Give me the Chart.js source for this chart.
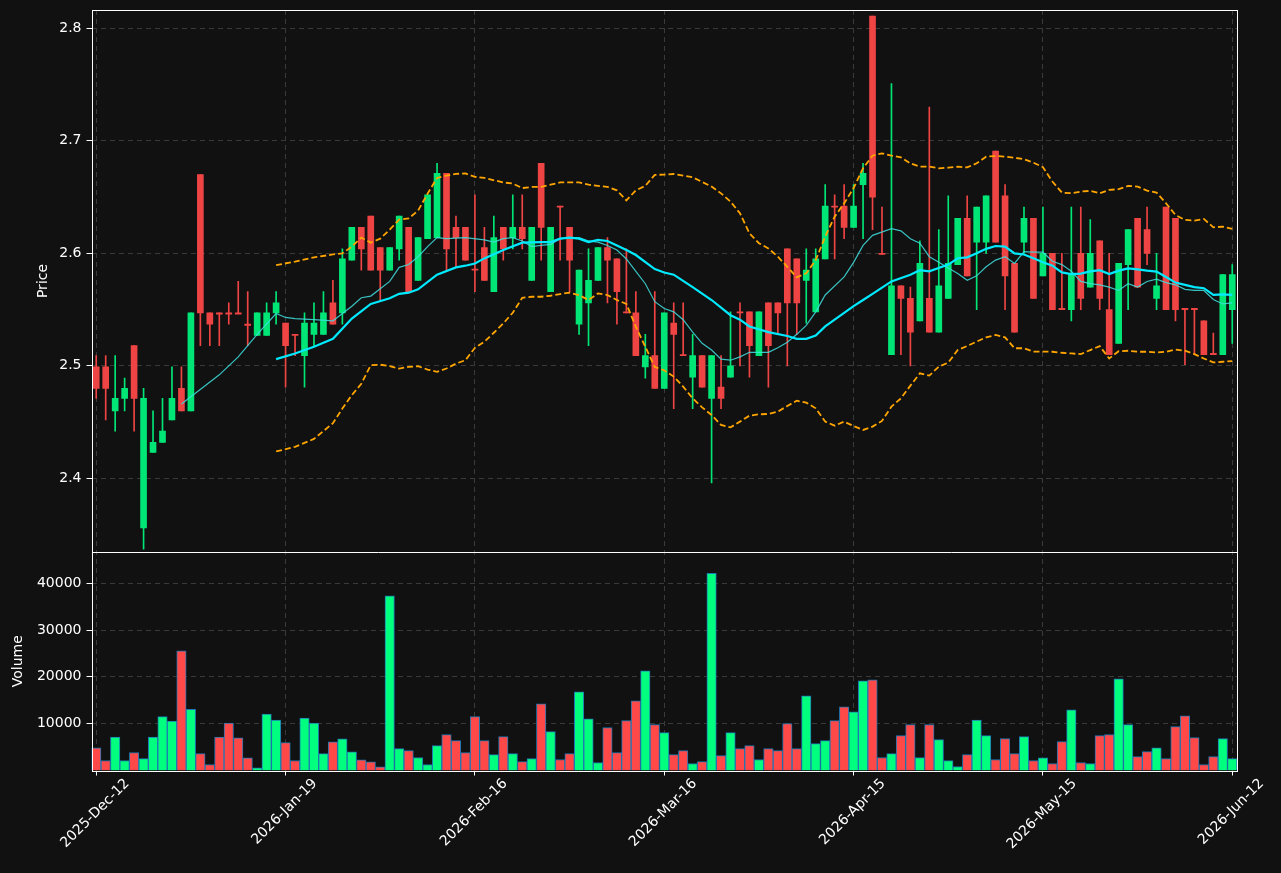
<!DOCTYPE html>
<html>
<head>
<meta charset="utf-8">
<script src="https://cdn.jsdelivr.net/npm/chart.js@4.4.0/dist/chart.umd.min.js"></script>
<style>
    html, body { margin: 0; padding: 0; background: #111111; }
    #wrap { position: relative; width: 1281px; height: 873px; }
</style>
</head>
<body>
<div id="wrap"><canvas id="chart" width="1281" height="873"></canvas></div>
<script>
// Daily candles
const opens = [
    2.499, 2.499, 2.460, 2.471, 2.518, 2.356, 2.423, 2.432, 2.452, 2.480,
    2.460, 2.670, 2.547, 2.547, 2.547, 2.547, 2.537, 2.527, 2.527, 2.547,
    2.538, 2.528, 2.509, 2.528, 2.528, 2.556, 2.547, 2.594, 2.623, 2.633,
    2.605, 2.585, 2.604, 2.623, 2.576, 2.613, 2.614, 2.671, 2.623, 2.623,
    2.586, 2.605, 2.566, 2.623, 2.614, 2.623, 2.576, 2.680, 2.566, 2.642,
    2.623, 2.537, 2.556, 2.576, 2.605, 2.595, 2.548, 2.547, 2.499, 2.509,
    2.480, 2.538, 2.510, 2.490, 2.509, 2.471, 2.481, 2.490, 2.548, 2.548,
    2.509, 2.556, 2.556, 2.604, 2.595, 2.576, 2.548, 2.595, 2.642, 2.642,
    2.623, 2.661, 2.811, 2.600, 2.510, 2.571, 2.560, 2.540, 2.560, 2.530,
    2.560, 2.590, 2.631, 2.610, 2.610, 2.691, 2.651, 2.591, 2.610, 2.631,
    2.580, 2.600, 2.551, 2.550, 2.600, 2.570, 2.611, 2.550, 2.520, 2.590,
    2.631, 2.621, 2.560, 2.641, 2.631, 2.551, 2.551, 2.540, 2.511, 2.510, 2.550
];
const highs = [
    2.509, 2.509, 2.509, 2.489, 2.518, 2.480, 2.460, 2.471, 2.499, 2.499,
    2.547, 2.670, 2.547, 2.547, 2.556, 2.575, 2.566, 2.547, 2.556, 2.566,
    2.538, 2.528, 2.547, 2.556, 2.566, 2.576, 2.604, 2.623, 2.623, 2.633,
    2.605, 2.605, 2.633, 2.623, 2.614, 2.652, 2.680, 2.671, 2.633, 2.623,
    2.652, 2.623, 2.633, 2.623, 2.652, 2.652, 2.623, 2.680, 2.623, 2.642,
    2.623, 2.585, 2.604, 2.605, 2.614, 2.595, 2.604, 2.566, 2.528, 2.566,
    2.547, 2.556, 2.556, 2.528, 2.509, 2.509, 2.509, 2.548, 2.556, 2.548,
    2.548, 2.556, 2.556, 2.604, 2.595, 2.604, 2.604, 2.661, 2.652, 2.661,
    2.661, 2.680, 2.811, 2.641, 2.751, 2.571, 2.570, 2.611, 2.730, 2.621,
    2.651, 2.631, 2.651, 2.641, 2.651, 2.691, 2.661, 2.591, 2.641, 2.631,
    2.641, 2.600, 2.600, 2.641, 2.641, 2.630, 2.611, 2.600, 2.591, 2.621,
    2.631, 2.641, 2.600, 2.641, 2.631, 2.551, 2.551, 2.540, 2.529, 2.581, 2.590
];
const lows = [
    2.471, 2.452, 2.442, 2.460, 2.442, 2.337, 2.423, 2.432, 2.452, 2.460,
    2.460, 2.518, 2.518, 2.518, 2.537, 2.547, 2.518, 2.527, 2.527, 2.537,
    2.481, 2.509, 2.481, 2.518, 2.528, 2.537, 2.537, 2.594, 2.585, 2.585,
    2.557, 2.585, 2.594, 2.566, 2.576, 2.613, 2.614, 2.585, 2.588, 2.594,
    2.566, 2.576, 2.566, 2.594, 2.604, 2.604, 2.576, 2.594, 2.566, 2.594,
    2.566, 2.528, 2.518, 2.576, 2.556, 2.537, 2.547, 2.509, 2.489, 2.480,
    2.480, 2.462, 2.509, 2.462, 2.481, 2.396, 2.462, 2.490, 2.500, 2.490,
    2.509, 2.481, 2.528, 2.500, 2.528, 2.538, 2.548, 2.595, 2.595, 2.613,
    2.623, 2.613, 2.621, 2.599, 2.510, 2.510, 2.500, 2.540, 2.530, 2.530,
    2.560, 2.590, 2.580, 2.550, 2.600, 2.610, 2.550, 2.530, 2.600, 2.560,
    2.580, 2.550, 2.550, 2.540, 2.550, 2.570, 2.550, 2.510, 2.520, 2.550,
    2.570, 2.590, 2.550, 2.550, 2.540, 2.501, 2.510, 2.510, 2.510, 2.510, 2.520
];
const closes = [
    2.480, 2.480, 2.471, 2.480, 2.471, 2.471, 2.432, 2.442, 2.471, 2.460,
    2.547, 2.547, 2.537, 2.546, 2.546, 2.546, 2.536, 2.547, 2.547, 2.556,
    2.518, 2.527, 2.538, 2.538, 2.547, 2.537, 2.595, 2.623, 2.604, 2.585,
    2.585, 2.605, 2.633, 2.566, 2.614, 2.652, 2.671, 2.604, 2.614, 2.594,
    2.585, 2.576, 2.614, 2.604, 2.623, 2.613, 2.623, 2.623, 2.623, 2.641,
    2.594, 2.585, 2.576, 2.605, 2.594, 2.566, 2.547, 2.509, 2.509, 2.480,
    2.547, 2.528, 2.509, 2.509, 2.481, 2.509, 2.471, 2.500, 2.547, 2.518,
    2.548, 2.518, 2.547, 2.556, 2.556, 2.585, 2.595, 2.642, 2.641, 2.623,
    2.642, 2.671, 2.650, 2.599, 2.571, 2.560, 2.530, 2.591, 2.530, 2.571,
    2.591, 2.631, 2.580, 2.641, 2.651, 2.610, 2.580, 2.530, 2.631, 2.560,
    2.600, 2.550, 2.550, 2.581, 2.560, 2.600, 2.560, 2.510, 2.591, 2.621,
    2.570, 2.600, 2.571, 2.550, 2.550, 2.550, 2.550, 2.510, 2.510, 2.581, 2.581
];
const volumes = [
    4820, 2130, 7160, 2130, 3830, 2550, 7160, 11490, 10570, 25530,
    13050, 3620, 1280, 7160, 10140, 6950, 2700, 570, 12060, 10780,
    5960, 2130, 11210, 10140, 3620, 6100, 6740, 3970, 2270, 1840,
    780, 37300, 4680, 4260, 2770, 1280, 5320, 7660, 6380, 3830,
    11490, 6380, 3400, 7230, 3620, 1910, 2550, 14260, 8300, 2340,
    3620, 16810, 11060, 1700, 9150, 3830, 10640, 14890, 21280, 9790,
    8090, 3400, 4260, 1490, 1910, 42130, 3190, 8090, 4680, 5320,
    2340, 4680, 4260, 10000, 4680, 15960, 5740, 6380, 10640, 13620,
    12550, 19150, 19360, 2770, 3620, 7450, 9790, 2770, 9790, 6600,
    2130, 850, 3400, 10780, 7450, 2340, 6810, 3620, 7230, 2130,
    2700, 1490, 6170, 12980, 1700, 1490, 7450, 7660, 19570, 9790,
    2980, 4040, 4820, 2550, 9360, 11700, 7020, 1280, 2980, 6810, 2550
];

// Overlay lines, read as [bar index, value]
const ma10Points = [
    [9,2.466],[13,2.492],[15,2.508],[17,2.528],[19,2.5465],[20,2.543],[21,2.542],[23,2.541],[25,2.540],
    [27,2.553],[28,2.5605],[29,2.562],[31,2.575],[32,2.5875],[33,2.590],[34,2.597],[35,2.606],[36,2.614],
    [37,2.613],[39,2.614],[41,2.612],[42,2.610],[43,2.613],[44,2.614],[45,2.611],[46,2.606],[47,2.607],
    [48,2.608],[49,2.613],[50,2.614],[51,2.614],[52,2.611],[53,2.610],[54,2.607],[55,2.603],[56,2.595],
    [57,2.584],[58,2.573],[59,2.557],[60,2.551],[61,2.548],[62,2.541],[63,2.530],[64,2.520],[65,2.514],
    [66,2.506],[67,2.505],[68,2.508],[69,2.512],[70,2.512],[71,2.512],[72,2.516],[73,2.521],[74,2.528],
    [75,2.536],[76,2.548],[77,2.563],[79,2.579],[80,2.592],[81,2.607],[82,2.616],[84,2.622],[85,2.620],
    [86,2.613],[87,2.609],[88,2.597],[89,2.592],[90,2.587],[91,2.582],[92,2.576],[93,2.580],[94,2.588],
    [95,2.594],[96,2.597],[97,2.591],[98,2.6015],[99,2.601],[100,2.601],[101,2.593],[102,2.590],[103,2.584],
    [104,2.575],[105,2.573],[106,2.572],[107,2.570],[108,2.567],[109,2.573],[110,2.570],[111,2.575],
    [112,2.577],[113,2.574],[114,2.572],[115,2.568],[116,2.567],[117,2.567],[118,2.559],[119,2.555],[120,2.556]
];
const ma20Points = [
    [19,2.506],[21,2.511],[23,2.517],[25,2.524],[27,2.542],[29,2.555],[31,2.560],[32,2.564],[33,2.565],
    [34,2.568],[36,2.581],[38,2.5875],[39,2.589],[40,2.591],[41,2.5955],[43,2.603],[45,2.6095],[47,2.610],
    [48,2.610],[49,2.613],[50,2.614],[51,2.613],[52,2.610],[53,2.612],[54,2.611],[55,2.607],[56,2.603],
    [57,2.5985],[59,2.586],[60,2.583],[61,2.581],[63,2.570],[65,2.5585],[67,2.545],[68,2.541],[69,2.535],
    [71,2.530],[73,2.5265],[74,2.524],[75,2.524],[76,2.527],[77,2.535],[79,2.547],[80,2.553],[81,2.5585],
    [82,2.564],[84,2.575],[86,2.581],[87,2.585],[88,2.584],[90,2.590],[91,2.5956],[92,2.5964],[93,2.600],
    [94,2.604],[95,2.6065],[96,2.606],[97,2.600],[98,2.599],[99,2.5956],[100,2.592],[101,2.589],[102,2.583],
    [103,2.5816],[104,2.582],[105,2.584],[106,2.585],[107,2.5816],[108,2.5846],[109,2.5866],[110,2.5858],
    [111,2.5846],[112,2.5837],[113,2.579],[114,2.574],[115,2.572],[116,2.570],[117,2.569],[118,2.563],
    [119,2.5635],[120,2.563]
];
const upperPoints = [
    [19,2.5895],[21,2.5926],[23,2.5964],[25,2.599],[26,2.600],[27,2.606],[28,2.614],[29,2.6095],[30,2.613],
    [31,2.621],[32,2.630],[33,2.631],[34,2.638],[35,2.653],[36,2.667],[37,2.669],[38,2.6706],[39,2.671],
    [40,2.668],[41,2.667],[43,2.663],[44,2.662],[45,2.658],[46,2.659],[47,2.659],[48,2.661],[49,2.663],
    [50,2.663],[51,2.663],[52,2.661],[53,2.660],[54,2.659],[55,2.656],[56,2.647],[57,2.656],[58,2.660],
    [59,2.6697],[60,2.670],[61,2.6705],[63,2.6676],[65,2.6593],[66,2.6533],[67,2.646],[68,2.6356],
    [69,2.6178],[70,2.609],[71,2.6044],[72,2.597],[73,2.588],[74,2.5787],[75,2.5822],[76,2.594],[77,2.6148],
    [78,2.6326],[79,2.6444],[80,2.658],[81,2.6756],[82,2.6868],[83,2.6889],[84,2.6868],[85,2.6853],
    [86,2.680],[87,2.677],[88,2.677],[89,2.6756],[90,2.6761],[91,2.677],[92,2.6764],[93,2.680],[94,2.6859],
    [95,2.6865],[96,2.6859],[97,2.685],[98,2.6836],[99,2.6806],[100,2.6766],[101,2.6638],[102,2.654],
    [103,2.6534],[104,2.6549],[105,2.6555],[106,2.6534],[107,2.6564],[108,2.657],[109,2.660],[110,2.6593],
    [111,2.6558],[112,2.654],[113,2.6445],[114,2.6341],[115,2.6297],[116,2.6291],[117,2.6306],[118,2.6231],
    [119,2.6237],[120,2.6217]
];
const lowerPoints = [
    [19,2.4239],[21,2.428],[23,2.435],[25,2.449],[26,2.462],[27,2.474],[28,2.484],[29,2.5006],[30,2.501],
    [31,2.4997],[32,2.4976],[33,2.499],[34,2.4997],[35,2.4967],[36,2.4947],[37,2.4976],[38,2.502],[39,2.505],
    [40,2.516],[41,2.5214],[42,2.5294],[43,2.5377],[44,2.5472],[45,2.5605],[46,2.5614],[47,2.5614],
    [48,2.5623],[49,2.5638],[50,2.565],[51,2.5629],[52,2.5585],[53,2.5644],[54,2.5629],[55,2.5585],
    [56,2.555],[57,2.5347],[58,2.5169],[59,2.499],[60,2.496],[61,2.4904],[62,2.4815],[63,2.4711],
    [64,2.4631],[65,2.4563],[66,2.4474],[67,2.4453],[68,2.4504],[69,2.4557],[70,2.4569],[71,2.4572],
    [72,2.4593],[73,2.4643],[74,2.469],[75,2.4673],[76,2.4622],[77,2.4504],[78,2.4468],[79,2.4504],
    [80,2.4465],[81,2.443],[82,2.446],[83,2.451],[84,2.4637],[85,2.4711],[86,2.4824],[87,2.4933],
    [88,2.4913],[89,2.4993],[90,2.5028],[91,2.5141],[92,2.5176],[93,2.5215],[94,2.5253],[95,2.5274],
    [96,2.5253],[97,2.5156],[98,2.5156],[99,2.5126],[100,2.5126],[101,2.5125],[102,2.5116],[103,2.511],
    [104,2.5104],[105,2.514],[106,2.5175],[107,2.5065],[108,2.513],[109,2.5134],[110,2.5125],[111,2.5125],
    [112,2.5119],[113,2.5125],[114,2.5145],[115,2.5134],[116,2.5104],[117,2.5065],[118,2.503],[119,2.5036],
    [120,2.5042]
];

// Axis ticks
const dateTickIndex = [0, 20, 40, 60, 80, 100, 120];
const dateTickText = ['2025-Dec-12', '2026-Jan-19', '2026-Feb-16', '2026-Mar-16', '2026-Apr-15', '2026-May-15', '2026-Jun-12'];
const priceTicks = [2.4, 2.5, 2.6, 2.7, 2.8];
const volumeTicks = [10000, 20000, 30000, 40000];

const N = opens.length;
const UP = '#00e676', DOWN = '#ef4444';
const VOL_UP = '#00ff7f', VOL_DOWN = '#ff4848';
const GRID = '#3a3a3a';
const FONT = 'DejaVu Sans';

function spread(points) {
    const out = new Array(N).fill(null);
    points.forEach(p => { out[p[0]] = p[1]; });
    return out;
}

function drawRotated(ctx, text, x, y, angle) {
    ctx.save();
    ctx.translate(x, y);
    ctx.rotate(angle);
    ctx.fillText(text, 0, 0);
    ctx.restore();
}

// keep the plot box exactly where the picture has it
function fixWidth(s) {
    s.width = 91.5;
    s.paddingTop = 0;
    s.paddingBottom = 0;
}

const isUp = closes.map((c, i) => c >= opens[i]);
const candleColors = isUp.map(u => u ? UP : DOWN);
const volColors = isUp.map(u => u ? VOL_UP : VOL_DOWN);
const labels = opens.map((_, i) => String(i));

// background, frame, axis titles and date labels
const decorPlugin = {
    id: 'decor',
    beforeDraw(chart) {
        const ctx = chart.ctx;
        ctx.save();
        ctx.fillStyle = '#111111';
        ctx.fillRect(0, 0, chart.width, chart.height);
        ctx.restore();
    },
    afterDraw(chart) {
        const { ctx, chartArea: a, scales } = chart;
        const yp = scales.y, yv = scales.yv, x = scales.x;
        const L = Math.round(a.left) + 0.5, R = Math.round(a.right) + 0.5;
        const T = Math.round(a.top) + 0.5, B = Math.round(a.bottom) + 0.5;
        const M = Math.round(yp.bottom) + 0.5;
        ctx.save();
        ctx.strokeStyle = '#ffffff';
        ctx.lineWidth = 1;
        ctx.strokeRect(L, T, R - L, B - T);
        ctx.beginPath();
        ctx.moveTo(L, M);
        ctx.lineTo(R, M);
        ctx.stroke();

        ctx.fillStyle = '#ffffff';
        ctx.font = '14px "' + FONT + '"';
        ctx.textAlign = 'center';
        ctx.textBaseline = 'middle';
        drawRotated(ctx, 'Price', 43, (yp.top + yp.bottom) / 2, -Math.PI / 2);
        drawRotated(ctx, 'Volume', 18, (yv.top + yv.bottom) / 2, -Math.PI / 2);

        dateTickIndex.forEach((idx, k) => {
            const px = x.getPixelForValue(idx);
            const w = ctx.measureText(dateTickText[k]).width;
            const half = (w + 14) * Math.SQRT1_2 / 2;
            drawRotated(ctx, dateTickText[k], px - 1, a.bottom + 6 + half, -Math.PI / 4);
        });
        ctx.restore();
    }
};

new Chart(document.getElementById('chart'), {
    type: 'bar',
    data: {
        labels: labels,
        datasets: [
            {
                type: 'line', label: 'MA20', data: spread(ma20Points), yAxisID: 'y',
                borderColor: '#00eaff', borderWidth: 2.2, pointRadius: 0, spanGaps: true, order: 0
            },
            {
                type: 'line', label: 'MA10', data: spread(ma10Points), yAxisID: 'y',
                borderColor: 'rgba(64, 224, 224, 0.85)', borderWidth: 1.2, pointRadius: 0, spanGaps: true, order: 0
            },
            {
                type: 'line', label: 'Upper', data: spread(upperPoints), yAxisID: 'y',
                borderColor: '#ffa500', borderWidth: 1.8, borderDash: [6, 3], pointRadius: 0, spanGaps: true, order: 0
            },
            {
                type: 'line', label: 'Lower', data: spread(lowerPoints), yAxisID: 'y',
                borderColor: '#ffa500', borderWidth: 1.8, borderDash: [6, 3], pointRadius: 0, spanGaps: true, order: 0
            },
            {
                label: 'Body', data: opens.map((o, i) => [o, closes[i]]), yAxisID: 'y',
                backgroundColor: candleColors, barThickness: 6, grouped: false, order: 1
            },
            {
                label: 'Wick', data: lows.map((l, i) => [l, highs[i]]), yAxisID: 'y',
                backgroundColor: candleColors, barThickness: 1, grouped: false, order: 2
            },
            {
                label: 'Volume', data: volumes, yAxisID: 'yv',
                backgroundColor: volColors, borderColor: '#1f77b4', borderWidth: 1,
                barPercentage: 1, categoryPercentage: 1, grouped: false, order: 3
            }
        ]
    },
    options: {
        responsive: false,
        animation: false,
        events: [],
        layout: { padding: { top: 10, right: 44, bottom: 0, left: 0 } },
        plugins: {
            legend: { display: false },
            tooltip: { enabled: false }
        },
        scales: {
            x: {
                type: 'category',
                offset: true,
                ticks: { display: false, autoSkip: false },
                grid: {
                    offset: false,
                    color: ctx => dateTickIndex.includes(ctx.index) ? GRID : 'transparent',
                    tickColor: ctx => dateTickIndex.includes(ctx.index) ? '#ffffff' : 'transparent',
                    tickLength: 5,
                    tickBorderDash: []
                },
                border: { display: false, dash: [5, 4] },
                afterFit: s => { s.height = 102.5; s.paddingLeft = 0; s.paddingRight = 0; }
            },
            yv: {
                type: 'linear',
                position: 'left',
                stack: 'panels',
                stackWeight: 218.5,
                min: 0,
                max: 46660,
                afterBuildTicks: s => { s.ticks = volumeTicks.map(v => ({ value: v })); },
                ticks: { color: '#ffffff', font: { family: FONT, size: 14 }, padding: 5, callback: v => String(v) },
                grid: { color: GRID, tickColor: '#ffffff', tickLength: 5, tickBorderDash: [] },
                border: { display: false, dash: [5, 4] },
                afterFit: fixWidth
            },
            y: {
                type: 'linear',
                position: 'left',
                stack: 'panels',
                stackWeight: 542,
                min: 2.3345,
                max: 2.8163,
                afterBuildTicks: s => { s.ticks = priceTicks.map(v => ({ value: v })); },
                ticks: { color: '#ffffff', font: { family: FONT, size: 14 }, padding: 5, callback: v => v.toFixed(1) },
                grid: { color: GRID, tickColor: '#ffffff', tickLength: 5, tickBorderDash: [] },
                border: { display: false, dash: [5, 4] },
                afterFit: fixWidth
            }
        }
    },
    plugins: [decorPlugin]
});
</script>
</body>
</html>
